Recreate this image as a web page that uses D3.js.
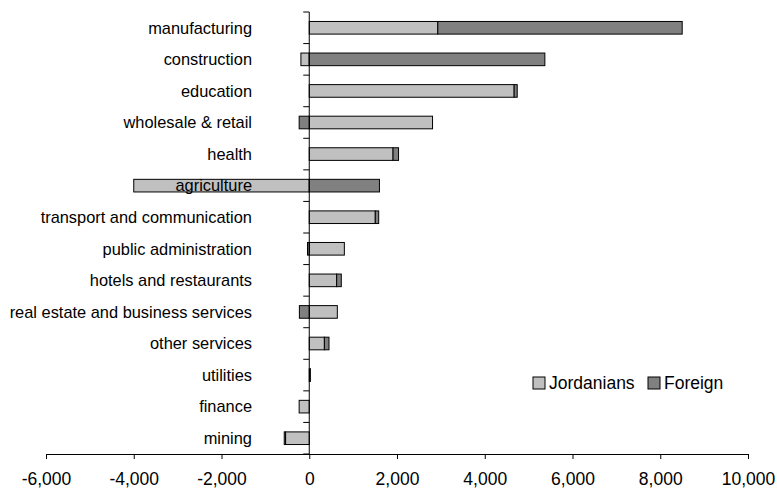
<!DOCTYPE html>
<html>
<head>
<meta charset="utf-8">
<script src="https://cdn.jsdelivr.net/npm/d3@7"></script>
<style>
  html, body { margin: 0; padding: 0; background: #fff; }
  svg { display: block; font-family: "Liberation Sans", Arial, sans-serif; }
</style>
</head>
<body>
<svg id="chart" width="777" height="491"></svg>
<script>
// Change in employment by sector, split by nationality
const categories = [
  "manufacturing", "construction", "education", "wholesale & retail", "health",
  "agriculture", "transport and communication", "public administration",
  "hotels and restaurants", "real estate and business services", "other services",
  "utilities", "finance", "mining"
];
const jordanians = [2930, -190, 4670, 2810, 1910, -4000, 1505, 800, 625, 640, 345, 15, -230, -540];
const foreign    = [5570, 5370, 70, -230, 125, 1600, 78, -40, 105, -225, 105, 10, 0, -30];
const seriesNames = ["Jordanians", "Foreign"];
const seriesColors = ["#c0c0c0", "#808080"];
const xTicks = [-6000, -4000, -2000, 0, 2000, 4000, 6000, 8000, 10000];

const svg = d3.select("#chart");
const plot = { left: 46, right: 748, top: 12, bottom: 454 };

const x = d3.scaleLinear().domain([-6000, 10000]).range([plot.left, plot.right]);
const y = d3.scaleBand().domain(categories).range([plot.top, plot.bottom]).paddingInner(0.6).paddingOuter(0.3);
const bandStep = y.step();

// Stack positives and negatives separately, series in order
const series = [jordanians, foreign];
const segments = [];
categories.forEach((c, i) => {
  let pos = 0, neg = 0;
  series.forEach((vals, s) => {
    const v = vals[i];
    if (v === 0) return;
    let a, b;
    if (v > 0) { a = pos; b = pos + v; pos = b; }
    else { a = neg + v; b = neg; neg = a; }
    segments.push({ cat: c, s, a, b });
  });
});

svg.append("g").selectAll("rect").data(segments).join("rect")
  .attr("x", d => x(d.a))
  .attr("y", d => y(d.cat))
  .attr("width", d => Math.max(0, x(d.b) - x(d.a)))
  .attr("height", y.bandwidth())
  .attr("fill", d => seriesColors[d.s])
  .attr("stroke", "#000")
  .attr("stroke-width", 1);

// Horizontal axis; thousands separated by commas, plain hyphen for negatives
const fmt = d3.format(",");
const xAxis = svg.append("g")
  .attr("transform", `translate(0,${plot.bottom})`)
  .call(d3.axisBottom(x).tickValues(xTicks).tickSize(5).tickSizeOuter(0)
    .tickFormat(d => fmt(d).replace("\u2212", "-")));
xAxis.select(".domain").attr("stroke", "#000");
xAxis.selectAll(".tick line").attr("stroke", "#000");
xAxis.selectAll(".tick text")
  .attr("y", 19)
  .attr("fill", "#000")
  .style("font-size", "17.5px")
  .style("font-family", "\"Liberation Sans\", Arial, sans-serif");

// Vertical axis at zero with ticks between categories
const yAxisG = svg.append("g");
yAxisG.append("line")
  .attr("x1", x(0)).attr("x2", x(0))
  .attr("y1", plot.top).attr("y2", plot.bottom)
  .attr("stroke", "#000");
const boundaries = d3.range(categories.length + 1).map(i => plot.top + i * bandStep);
yAxisG.selectAll("line.tk").data(boundaries).join("line")
  .attr("class", "tk")
  .attr("x1", x(0) - 6).attr("x2", x(0))
  .attr("y1", d => d).attr("y2", d => d)
  .attr("stroke", "#000");

// Category labels
svg.append("g").selectAll("text").data(categories).join("text")
  .attr("x", 252)
  .attr("y", d => y(d) + y.bandwidth() / 2)
  .attr("dy", "0.35em")
  .attr("text-anchor", "end")
  .style("font-size", "16.4px")
  .attr("fill", "#000")
  .text(d => d);

// Legend
const legend = svg.append("g");
const legendX = [533, 648];
seriesNames.forEach((name, i) => {
  legend.append("rect")
    .attr("x", legendX[i]).attr("y", 377)
    .attr("width", 12).attr("height", 12)
    .attr("fill", seriesColors[i])
    .attr("stroke", "#000");
  legend.append("text")
    .attr("x", legendX[i] + 16).attr("y", 383)
    .attr("dy", "0.35em")
    .style("font-size", "17.5px")
    .attr("fill", "#000")
    .text(name);
});
</script>
</body>
</html>
